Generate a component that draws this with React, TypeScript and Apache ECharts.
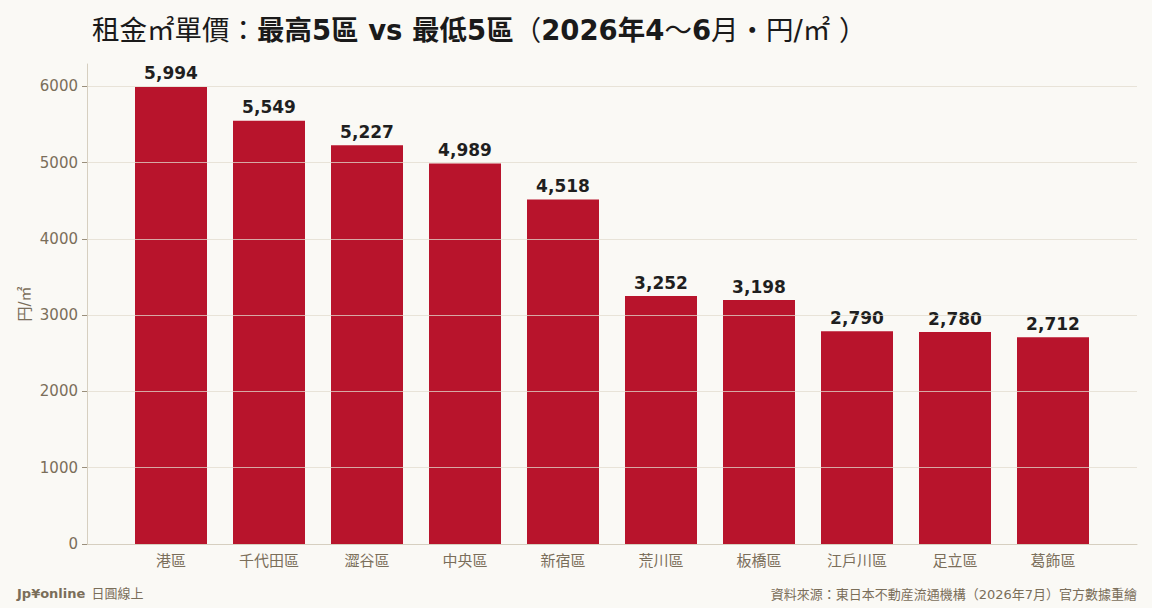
import React, { useEffect, useRef } from "react";
import * as echarts from "echarts";

const categories = ["港區", "千代田區", "澀谷區", "中央區", "新宿區", "荒川區", "板橋區", "江戶川區", "足立區", "葛飾區"];
const values = [5994, 5549, 5227, 4989, 4518, 3252, 3198, 2790, 2780, 2712];
const yTicks = [0, 1000, 2000, 3000, 4000, 5000, 6000];
const yAxisName = "円/㎡";

const FONT = "'DejaVu Sans', 'Noto Sans CJK TC', 'Noto Sans CJK JP', sans-serif";
const LABEL_COLOR = "#7a6e5a";

export default function App() {
  const ref = useRef<HTMLDivElement>(null);
  useEffect(() => {
    document.body.style.margin = "0";
    if (!ref.current) return;
    const chart = echarts.init(ref.current, null, { renderer: "svg" });
    const yMax = Math.round(values[0] * 1.05);
    chart.setOption({
      animation: false,
      backgroundColor: "#faf9f5",
      textStyle: { fontFamily: FONT },
      title: [
        {
          text:
            "{n|租金㎡單價：}{b|最高5區 vs 最低5區}{n|（}{b|2026年4}{n|〜}{b|6}{n|月・円/㎡ ）}",
          left: 87,
          top: 11,
          textStyle: {
            rich: {
              n: { fontFamily: FONT, fontSize: 27.5, fontWeight: "normal", color: "#1a1a1a" },
              b: { fontFamily: FONT, fontSize: 27.5, fontWeight: "bold", color: "#1a1a1a" },
            },
          },
        },
        {
          text: "{b|Jp¥online} {n|日圓線上}",
          left: 12,
          bottom: 0,
          textStyle: {
            rich: {
              b: { fontFamily: FONT, fontSize: 13, fontWeight: "bold", color: LABEL_COLOR },
              n: { fontFamily: FONT, fontSize: 13, fontWeight: "normal", color: LABEL_COLOR },
            },
          },
        },
        {
          text: "資料來源：東日本不動産流通機構（2026年7月）官方數據重繪",
          right: 10,
          bottom: 2,
          textStyle: { fontFamily: FONT, fontSize: 13, fontWeight: "normal", color: LABEL_COLOR },
        },
      ],
      graphic: [
        {
          type: "text",
          x: 25,
          y: 304,
          rotation: Math.PI / 2,
          style: {
            text: yAxisName,
            fill: LABEL_COLOR,
            font: `15px ${FONT}`,
            align: "center",
            verticalAlign: "middle",
          },
        },
      ],
      grid: [
        { left: 87, right: 15, top: 64, bottom: 64 },
        { left: 122, right: 50, top: 64, bottom: 64 },
      ],
      xAxis: [
        {
          type: "value",
          gridIndex: 0,
          min: 0,
          max: 1,
          axisLine: { show: true, lineStyle: { color: "#d6cfc0" } },
          axisTick: { show: false },
          axisLabel: { show: false },
          splitLine: { show: false },
        },
        {
          type: "category",
          gridIndex: 1,
          data: categories,
          axisLine: { show: false },
          axisTick: { alignWithLabel: true, length: 5, lineStyle: { color: "#9a8f7c" } },
          axisLabel: { color: LABEL_COLOR, fontSize: 15, margin: 9, fontFamily: FONT },
        },
      ],
      yAxis: [
        {
          type: "value",
          gridIndex: 0,
          min: 0,
          max: yMax,
          interval: 1000,
          z: 3,
          axisLine: { show: true, lineStyle: { color: "#d6cfc0" } },
          axisTick: { show: true, length: 5, lineStyle: { color: "#9a8f7c" } },
          axisLabel: {
            color: LABEL_COLOR,
            fontSize: 15,
            margin: 9,
            fontFamily: FONT,
            showMaxLabel: false,
            formatter: (v: number) => (yTicks.includes(v) ? String(v) : ""),
          },
          splitLine: {
            show: true,
            showMaxLine: false,
            showMinLine: false,
            lineStyle: { color: "rgba(225,219,205,0.75)", width: 1 },
          },
        },
        {
          type: "value",
          gridIndex: 1,
          min: 0,
          max: yMax,
          show: false,
          splitLine: { show: false },
        },
      ],
      series: [
        {
          type: "bar",
          xAxisIndex: 1,
          yAxisIndex: 1,
          data: values,
          barWidth: 72,
          itemStyle: { color: "#b8142c" },
          label: {
            show: true,
            position: "top",
            distance: 5,
            fontFamily: FONT,
            fontSize: 17,
            fontWeight: "bold",
            color: "#1f1f1f",
            formatter: (p: any) => Number(p.value).toLocaleString("en-US"),
          },
        },
      ],
    });
    return () => chart.dispose();
  }, []);
  return <div ref={ref} style={{ width: 1152, height: 608 }} />;
}
